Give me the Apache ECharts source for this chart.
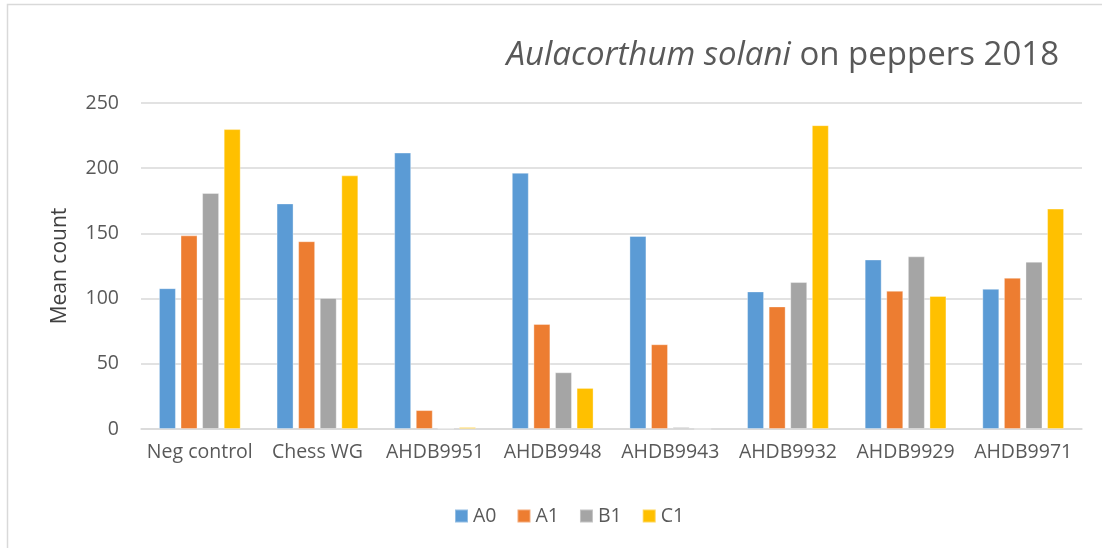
<!DOCTYPE html>
<html>
<head>
<meta charset="utf-8">
<script src="https://cdn.jsdelivr.net/npm/echarts@6/dist/echarts.min.js"></script>
<style>html,body{margin:0;padding:0;background:#fff}#c{width:1102px;height:548px}</style>
</head>
<body>
<div id="c"></div>
<script>
const categories = ['Neg control', 'Chess WG', 'AHDB9951', 'AHDB9948', 'AHDB9943', 'AHDB9932', 'AHDB9929', 'AHDB9971'];
const seriesNames = ['A0', 'A1', 'B1', 'C1'];
const A0 = [108, 173, 212, 196.5, 148, 105.5, 130, 107.5];
const A1 = [148.5, 144, 14.5, 80.5, 65, 94, 106, 116];
const B1 = [181, 100.5, 0.5, 43.5, 1.5, 112.7, 132.4, 128.3];
const C1 = [230, 194.5, 1.5, 31.5, 0, 233, 102, 169];
const yTicks = [0, 50, 100, 150, 200, 250];
const colors = ['#5B9BD5', '#ED7D31', '#A5A5A5', '#FFC000'];

const FONT = '"Open Sans", sans-serif';
const chart = echarts.init(document.getElementById('c'), null, {renderer: 'canvas'});
const values = [A0, A1, B1, C1];
chart.setOption({
  animation: false,
  backgroundColor: '#fff',
  graphic: [{
    type: 'rect', shape: {x: 7.5, y: 4.5, width: 1200, height: 700},
    style: {fill: 'none', stroke: '#d9d9d9', lineWidth: 1.5}, silent: true, z: -10
  }],
  title: {
    text: '{i|Aulacorthum solani}{n| on peppers 2018}',
    right: 38, top: 34,
    textStyle: {
      fontWeight: 'normal',
      rich: {
        i: {fontFamily: FONT, fontSize: 33, fontStyle: 'italic', fontWeight: 'normal', color: '#595959'},
        n: {fontFamily: FONT, fontSize: 33, fontWeight: 'normal', color: '#595959'}
      }
    }
  },
  legend: {
    bottom: 17, left: 449,
    itemWidth: 13, itemHeight: 13, itemGap: 20,
    icon: 'rect',
    textStyle: {fontFamily: FONT, fontSize: 19.5, color: '#595959'},
    data: seriesNames
  },
  grid: {left: 141, right: 20, top: 103, bottom: 119, containLabel: false},
  xAxis: {
    type: 'category', data: categories,
    axisLine: {lineStyle: {color: '#d9d9d9', width: 1.5}},
    axisTick: {show: false},
    axisLabel: {fontFamily: FONT, fontSize: 19.5, color: '#595959', margin: 13, interval: 0}
  },
  yAxis: {
    type: 'value', min: 0, max: 250, interval: 50,
    name: 'Mean count', nameLocation: 'middle', nameGap: 70, nameRotate: 90,
    nameTextStyle: {fontFamily: FONT, fontSize: 21, color: '#404040'},
    axisLine: {show: false}, axisTick: {show: false},
    axisLabel: {fontFamily: FONT, fontSize: 19.5, color: '#595959', margin: 22,
      formatter: v => yTicks.includes(v) ? String(v) : ''},
    splitLine: {lineStyle: {color: '#d9d9d9', width: 1.5}}
  },
  series: seriesNames.map((n, i) => ({
    name: n, type: 'bar', data: values[i],
    barWidth: 17, barGap: '27%',
    itemStyle: {color: colors[i], borderColor: 'rgba(255,255,255,0.35)', borderWidth: 1}
  }))
});
</script>
</body>
</html>
